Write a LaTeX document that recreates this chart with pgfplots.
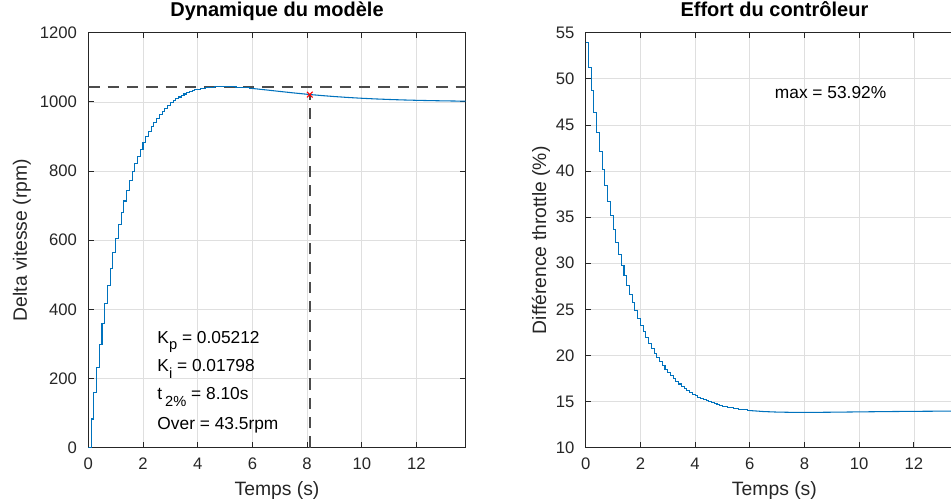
\documentclass[border=0pt]{standalone}
\usepackage{fontspec}
\setmainfont{Liberation Sans}
\usepackage{pgfplots}
\pgfplotsset{compat=1.18}
\definecolor{mblue}{rgb}{0,0.447,0.741}
\definecolor{axgray}{rgb}{0.15,0.15,0.15}
\definecolor{gridc}{rgb}{0.875,0.875,0.875}
\definecolor{dashc}{rgb}{0.3,0.3,0.3}

\pgfplotsset{mstyle/.style={
  scale only axis, width=283.05pt, height=311.25pt, anchor=south west,
  xmin=0, xmax=13.8,
  xtick={0,2,...,12},
  grid=major, major grid style={gridc, line width=0.5pt},
  axis line style={axgray, line width=0.6pt},
  tick style={axgray, line width=0.6pt},
  major tick length=4pt,
  tick align=inside,
  /pgf/number format/assume math mode=true,
  /pgf/number format/1000 sep={},
  tick label style={font=\fontsize{12.5}{12.5}\selectfont, text=axgray},
  xticklabel style={yshift=-4pt},
  yticklabel style={xshift=-5pt},
  label style={font=\fontsize{14.5}{14.5}\selectfont, text=axgray},
  title style={font=\fontsize{15}{15}\selectfont\bfseries, at={(axis description cs:0.5,1.0186)}, anchor=base},
  xlabel style={at={(axis description cs:0.5,-0.102)}, anchor=center},
}}

\newcommand{\subs}[1]{\raisebox{-4.8pt}{\fontsize{11}{11}\selectfont #1}}

\begin{document}
\begin{tikzpicture}
\begin{axis}[mstyle, at={(66.225pt,40.725pt)},
  ymin=0, ymax=1200, ytick={0,200,...,1200},
  title={Dynamique du modèle},
  xlabel={Temps (s)}, ylabel={Delta vitesse (rpm)},
  ylabel style={at={(axis description cs:-0.1757,0.5)}, anchor=center},
]
\addplot[dashc, line width=1.3pt, dash pattern=on 8.5pt off 6pt] coordinates {(0,1043.5) (13.8,1043.5)};
\addplot[dashc, line width=1.3pt, dash pattern=on 8.5pt off 6pt] coordinates {(8.1,0) (8.1,1021)};
\addplot[mblue, line width=0.8pt, const plot] coordinates {
(0,0) (0.1,82.98) (0.2,160.05) (0.3,231.60) (0.4,297.99) (0.5,359.57) (0.6,416.65) (0.7,469.55) (0.8,518.52) (0.9,563.85)
(1.0,605.77) (1.1,644.51) (1.2,680.30) (1.3,713.32) (1.4,743.78) (1.5,771.85) (1.6,797.70) (1.7,821.47) (1.8,843.32) (1.9,863.38)
(2.0,881.77) (2.1,898.62) (2.2,914.04) (2.3,928.12) (2.4,940.98) (2.5,952.68) (2.6,963.33) (2.7,972.99) (2.8,981.75) (2.9,989.66)
(3.0,996.80) (3.1,1003.22) (3.2,1008.98) (3.3,1014.13) (3.4,1018.71) (3.5,1022.78) (3.6,1026.37) (3.7,1029.52) (3.8,1032.27) (3.9,1034.65)
(4.0,1036.69) (4.1,1038.43) (4.2,1039.87) (4.3,1041.07) (4.4,1042.02) (4.5,1042.77) (4.6,1043.32) (4.7,1043.69) (4.8,1043.90) (4.9,1043.98)
(5.0,1043.92) (5.1,1043.75) (5.2,1043.47) (5.3,1043.10) (5.4,1042.65) (5.5,1042.13) (5.6,1041.54) (5.7,1040.90) (5.8,1040.21) (5.9,1039.48)
(6.0,1038.71)};
\addplot[mblue, line width=0.8pt] coordinates {
(6.0,1038.71) (6.5,1034.55) (7.0,1030.17) (7.5,1025.92) (8.0,1021.98) (8.5,1018.44) (9.0,1015.34) (9.5,1012.66)
(10.0,1010.38) (10.5,1008.47) (11.0,1006.88) (11.5,1005.56) (12.0,1004.47) (12.5,1003.59) (13.0,1002.87) (13.5,1002.29) (14.0,1001.82)};
\addplot[red, only marks, mark=x, mark size=3pt, line width=0.8pt] coordinates {(8.1,1021)};
\node[anchor=base west, inner sep=0pt, font=\fontsize{13}{13}\selectfont] at (axis cs:2.52,302) {K\subs{p} = 0.05212};
\node[anchor=base west, inner sep=0pt, font=\fontsize{13}{13}\selectfont] at (axis cs:2.52,220) {K\subs{i} = 0.01798};
\node[anchor=base west, inner sep=0pt, font=\fontsize{13}{13}\selectfont] at (axis cs:2.52,138) {t\,\subs{2\%} = 8.10s};
\node[anchor=base west, inner sep=0pt, font=\fontsize{13}{13}\selectfont] at (axis cs:2.52,53) {Over = 43.5rpm};
\end{axis}

\begin{axis}[mstyle, at={(439.275pt,40.725pt)},
  ymin=10, ymax=55, ytick={10,15,...,55},
  title={Effort du contrôleur},
  xlabel={Temps (s)}, ylabel={Différence throttle (\%)},
  ylabel style={at={(axis description cs:-0.1184,0.5)}, anchor=center},
]
\addplot[mblue, line width=0.8pt, const plot] coordinates {
(0,53.916) (0.1,51.24) (0.2,48.733) (0.3,46.385) (0.4,44.187) (0.5,42.129) (0.6,40.202) (0.7,38.399) (0.8,36.712) (0.9,35.134)
(1.0,33.658) (1.1,32.278) (1.2,30.987) (1.3,29.781) (1.4,28.654) (1.5,27.601) (1.6,26.618) (1.7,25.700) (1.8,24.843) (1.9,24.043)
(2.0,23.297) (2.1,22.601) (2.2,21.952) (2.3,21.347) (2.4,20.783) (2.5,20.258) (2.6,19.769) (2.7,19.314) (2.8,18.891) (2.9,18.497)
(3.0,18.130) (3.1,17.790) (3.2,17.474) (3.3,17.180) (3.4,16.907) (3.5,16.654) (3.6,16.420) (3.7,16.203) (3.8,16.001) (3.9,15.815)
(4.0,15.643) (4.1,15.483) (4.2,15.336) (4.3,15.200) (4.4,15.075) (4.5,14.959) (4.6,14.852) (4.7,14.754) (4.8,14.664) (4.9,14.581)
(5.0,14.506) (5.1,14.436) (5.2,14.372) (5.3,14.314) (5.4,14.261) (5.5,14.212) (5.6,14.168) (5.7,14.128) (5.8,14.092) (5.9,14.059)
(6.0,14.029)};
\addplot[mblue, line width=0.8pt] coordinates {
(6.0,14.029) (6.5,13.920) (7.0,13.861) (7.5,13.835) (8.0,13.829) (8.5,13.835) (9.0,13.848) (9.5,13.865)
(10.0,13.882) (10.5,13.899) (11.0,13.915) (11.5,13.929) (12.0,13.941) (12.5,13.952) (13.0,13.961) (13.5,13.969) (14.0,13.975)};
\node[anchor=base west, inner sep=0pt, font=\fontsize{13}{13}\selectfont] at (axis cs:6.91,47.89) {max = 53.92\%};
\end{axis}
\pgfresetboundingbox
\useasboundingbox (0,0) rectangle (713.25pt,376.5pt);
\end{tikzpicture}
\end{document}
